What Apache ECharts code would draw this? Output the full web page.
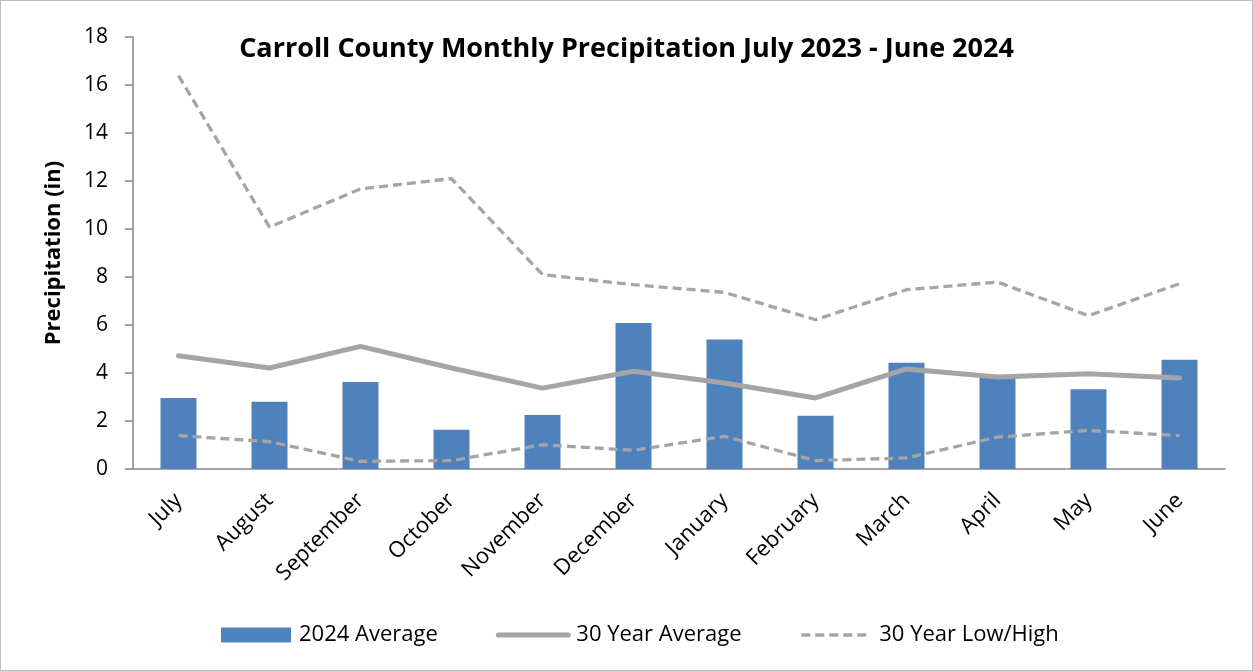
<!DOCTYPE html>
<html>
<head>
<meta charset="utf-8">
<script src="https://cdn.jsdelivr.net/npm/echarts@6/dist/echarts.min.js"></script>
<style>
  html, body { margin: 0; padding: 0; background: #fff; }
  #frame { width: 1253px; height: 671px; box-sizing: border-box; border: 1px solid #bfbfbf; }
  #chart { width: 1251px; height: 669px; }
</style>
</head>
<body>
<div id="frame"><div id="chart"></div></div>
<script>
// data
var months = ['July', 'August', 'September', 'October', 'November', 'December',
              'January', 'February', 'March', 'April', 'May', 'June'];
var avg2024 = [2.96, 2.80, 3.62, 1.64, 2.25, 6.08, 5.40, 2.22, 4.43, 3.85, 3.32, 4.55];
var avg30 = [4.72, 4.21, 5.11, 4.21, 3.37, 4.07, 3.58, 2.96, 4.17, 3.83, 3.97, 3.79];
var high30 = [16.39, 10.08, 11.67, 12.10, 8.10, 7.68, 7.36, 6.22, 7.47, 7.79, 6.39, 7.72];
var low30 = [1.39, 1.14, 0.32, 0.35, 1.01, 0.78, 1.36, 0.35, 0.46, 1.33, 1.61, 1.39];

var font = '"Open Sans", "Noto Sans", sans-serif';
var gray = '#a5a5a5';
var axisGray = '#868686';

var myChart = echarts.init(document.getElementById('chart'));
var option = {
    animation: false,
    title: {
        text: 'Carroll County Monthly Precipitation July 2023 - June 2024',
        left: 'center',
        top: 30,
        textStyle: { fontFamily: font, fontSize: 27, fontWeight: 'bold', color: '#000' }
    },
    legend: {
        bottom: 19,
        left: 215,
        itemWidth: 70,
        itemHeight: 15,
        itemGap: 58,
        textStyle: { fontFamily: font, fontSize: 22, color: '#000', padding: [0, 0, 0, 3] },
        data: [
            { name: '2024 Average', icon: 'rect' },
            { name: '30 Year Average', itemStyle: { opacity: 0 }, lineStyle: { width: 5 } },
            { name: '30 Year Low/High', itemStyle: { opacity: 0 }, lineStyle: { width: 3.5 } }
        ]
    },
    grid: { left: 132, right: 27, top: 36, bottom: 201 },
    xAxis: {
        type: 'category',
        data: months,
        axisLine: { lineStyle: { color: axisGray, width: 1.5 } },
        axisTick: { length: 7, lineStyle: { color: axisGray, width: 1.5 } },
        axisLabel: { rotate: 45, fontFamily: font, fontSize: 22, color: '#000', margin: 28 }
    },
    yAxis: {
        type: 'value',
        min: 0,
        max: 18,
        interval: 2,
        name: 'Precipitation (in)',
        nameLocation: 'middle',
        nameGap: 68,
        nameTextStyle: { fontFamily: font, fontSize: 22, fontWeight: 'bold', color: '#000' },
        axisLine: { show: true, lineStyle: { color: axisGray, width: 1.5 } },
        axisTick: { show: true, length: 8, lineStyle: { color: axisGray, width: 1.5 } },
        axisLabel: { fontFamily: font, fontSize: 21, color: '#000', margin: 25 },
        splitLine: { show: false }
    },
    series: [
        {
            name: '2024 Average',
            type: 'bar',
            barWidth: 36,
            itemStyle: { color: '#4f81bd' },
            data: avg2024
        },
        {
            name: '30 Year Average',
            type: 'line',
            symbol: 'none',
            lineStyle: { color: gray, width: 5, cap: 'round', join: 'round' },
            itemStyle: { color: gray },
            data: avg30
        },
        {
            name: '30 Year Low/High',
            type: 'line',
            symbol: 'none',
            lineStyle: { color: gray, width: 3.3, type: [9, 5] },
            itemStyle: { color: gray },
            data: high30
        },
        {
            name: '30 Year Low/High',
            type: 'line',
            symbol: 'none',
            lineStyle: { color: gray, width: 3.3, type: [9, 5] },
            itemStyle: { color: gray },
            data: low30
        }
    ]
};
myChart.setOption(option);
</script>
</body>
</html>
